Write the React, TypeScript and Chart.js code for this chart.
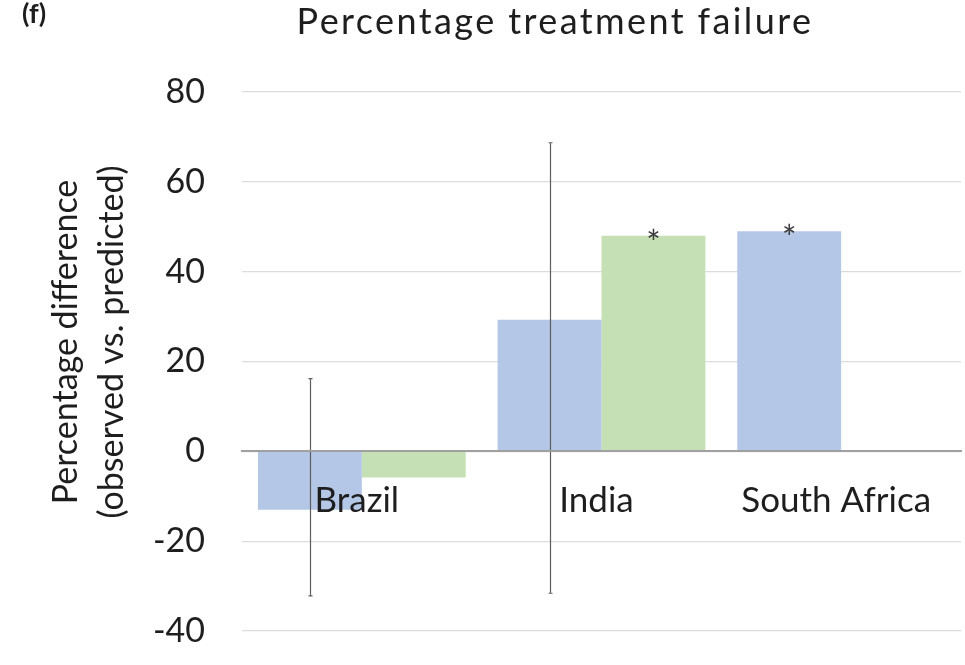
import React, { useEffect, useRef } from "react";
import { Chart, registerables } from "chart.js";

Chart.register(...registerables);

const categories = ["Brazil", "India", "South Africa"];
const seriesBlue: (number | null)[] = [-13, 29.3, 49];
const seriesGreen: (number | null)[] = [-5.8, 48, null];
const errLowBlue: (number | null)[] = [-32.2, -31.6, null];
const errHighBlue: (number | null)[] = [16.2, 68.7, null];
const starBlue = [false, false, true];
const starGreen = [false, true, false];
const yMin = -40;
const yMax = 80;
const yStep = 20;
const chartTitle = "Percentage treatment failure";
const panelLabel = "(f)";
const yTitleLines = ["Percentage difference", "(observed vs. predicted)"];

const FONT = "Lato, 'Open Sans', sans-serif";
const TEXT = "#1e1e1e";

const overlay = {
  id: "overlay",
  afterDatasetsDraw(chart: any) {
    const ctx = chart.ctx;
    const ys = chart.scales.y;
    const metaA = chart.getDatasetMeta(0);
    ctx.save();
    ctx.strokeStyle = "#5e5e5e";
    ctx.lineWidth = 1.2;
    metaA.data.forEach((bar: any, i: number) => {
      const lo = errLowBlue[i];
      const hi = errHighBlue[i];
      if (lo == null || hi == null) return;
      const x = Math.round(bar.x) + 0.5;
      const y1 = ys.getPixelForValue(hi);
      const y2 = ys.getPixelForValue(lo);
      ctx.beginPath();
      ctx.moveTo(x, y1);
      ctx.lineTo(x, y2);
      ctx.moveTo(x - 2, y1);
      ctx.lineTo(x + 2, y1);
      ctx.moveTo(x - 2, y2);
      ctx.lineTo(x + 2, y2);
      ctx.stroke();
    });
    ctx.fillStyle = "#3a3a3a";
    ctx.font = `34px ${FONT}`;
    ctx.textAlign = "center";
    ctx.textBaseline = "top";
    const flags = [starBlue, starGreen];
    [0, 1].forEach((di) => {
      const meta = chart.getDatasetMeta(di);
      meta.data.forEach((bar: any, i: number) => {
        if (!flags[di][i]) return;
        ctx.fillText("*", bar.x, bar.y - 9);
      });
    });
    ctx.restore();
  },
  afterDraw(chart: any) {
    const ctx = chart.ctx;
    ctx.save();
    ctx.fillStyle = TEXT;
    ctx.textAlign = "center";
    ctx.textBaseline = "alphabetic";
    ctx.font = `36px ${FONT}`;
    (ctx as any).letterSpacing = "2.4px";
    ctx.fillText(chartTitle, 555, 34);
    (ctx as any).letterSpacing = "0px";
    ctx.font = `700 27px ${FONT}`;
    ctx.textAlign = "left";
    ctx.fillText(panelLabel, 22, 23);
    ctx.textAlign = "center";
    ctx.textBaseline = "middle";
    ctx.font = `34px ${FONT}`;
    ctx.translate(0, 342);
    ctx.rotate(-Math.PI / 2);
    ctx.fillText(yTitleLines[0], 0, 66);
    ctx.fillText(yTitleLines[1], 0, 112);
    ctx.restore();
  },
};

export default function App() {
  const ref = useRef<HTMLCanvasElement | null>(null);
  useEffect(() => {
    if (!ref.current) return;
    const chart = new Chart(ref.current, {
      type: "bar",
      data: {
        labels: categories,
        datasets: [
          {
            label: "Observed vs predicted (A)",
            data: seriesBlue,
            backgroundColor: "#b4c7e7",
            borderWidth: 0,
            categoryPercentage: 0.867,
            barPercentage: 1,
          },
          {
            label: "Observed vs predicted (B)",
            data: seriesGreen,
            backgroundColor: "#c5e0b4",
            borderWidth: 0,
            categoryPercentage: 0.867,
            barPercentage: 1,
          },
        ],
      },
      options: {
        animation: false,
        responsive: true,
        maintainAspectRatio: false,
        layout: { padding: { top: 92, bottom: 34, left: 0, right: 4 } },
        plugins: {
          legend: { display: false },
          tooltip: { enabled: false },
          title: { display: false },
        },
        scales: {
          x: {
            type: "category",
            position: { y: 0 } as any,
            afterFit: (s: any) => {
              s.height = 0;
            },
            grid: { display: false, drawTicks: false },
            border: { display: true, color: "#a0a0a0", width: 2, z: 1 } as any,
            ticks: {
              z: 1,
              padding: 28,
              labelOffset: -5,
              color: TEXT,
              font: { family: FONT, size: 35 },
              maxRotation: 0,
              autoSkip: false,
            },
          },
          y: {
            min: yMin,
            max: yMax,
            afterFit: (s: any) => {
              s.width = 242;
              s.paddingTop = 0;
              s.paddingBottom = 0;
            },
            grid: { color: "#dcdcdc", lineWidth: 1.2, drawTicks: false },
            border: { display: false },
            ticks: {
              stepSize: yStep,
              padding: 37,
              color: TEXT,
              font: { family: FONT, size: 34 },
            },
          },
        },
      },
      plugins: [overlay],
    });
    return () => chart.destroy();
  }, []);
  return (
    <div style={{ position: "absolute", left: 0, top: 0, width: 965, height: 665, background: "#fff" }}>
      <canvas ref={ref} />
    </div>
  );
}
